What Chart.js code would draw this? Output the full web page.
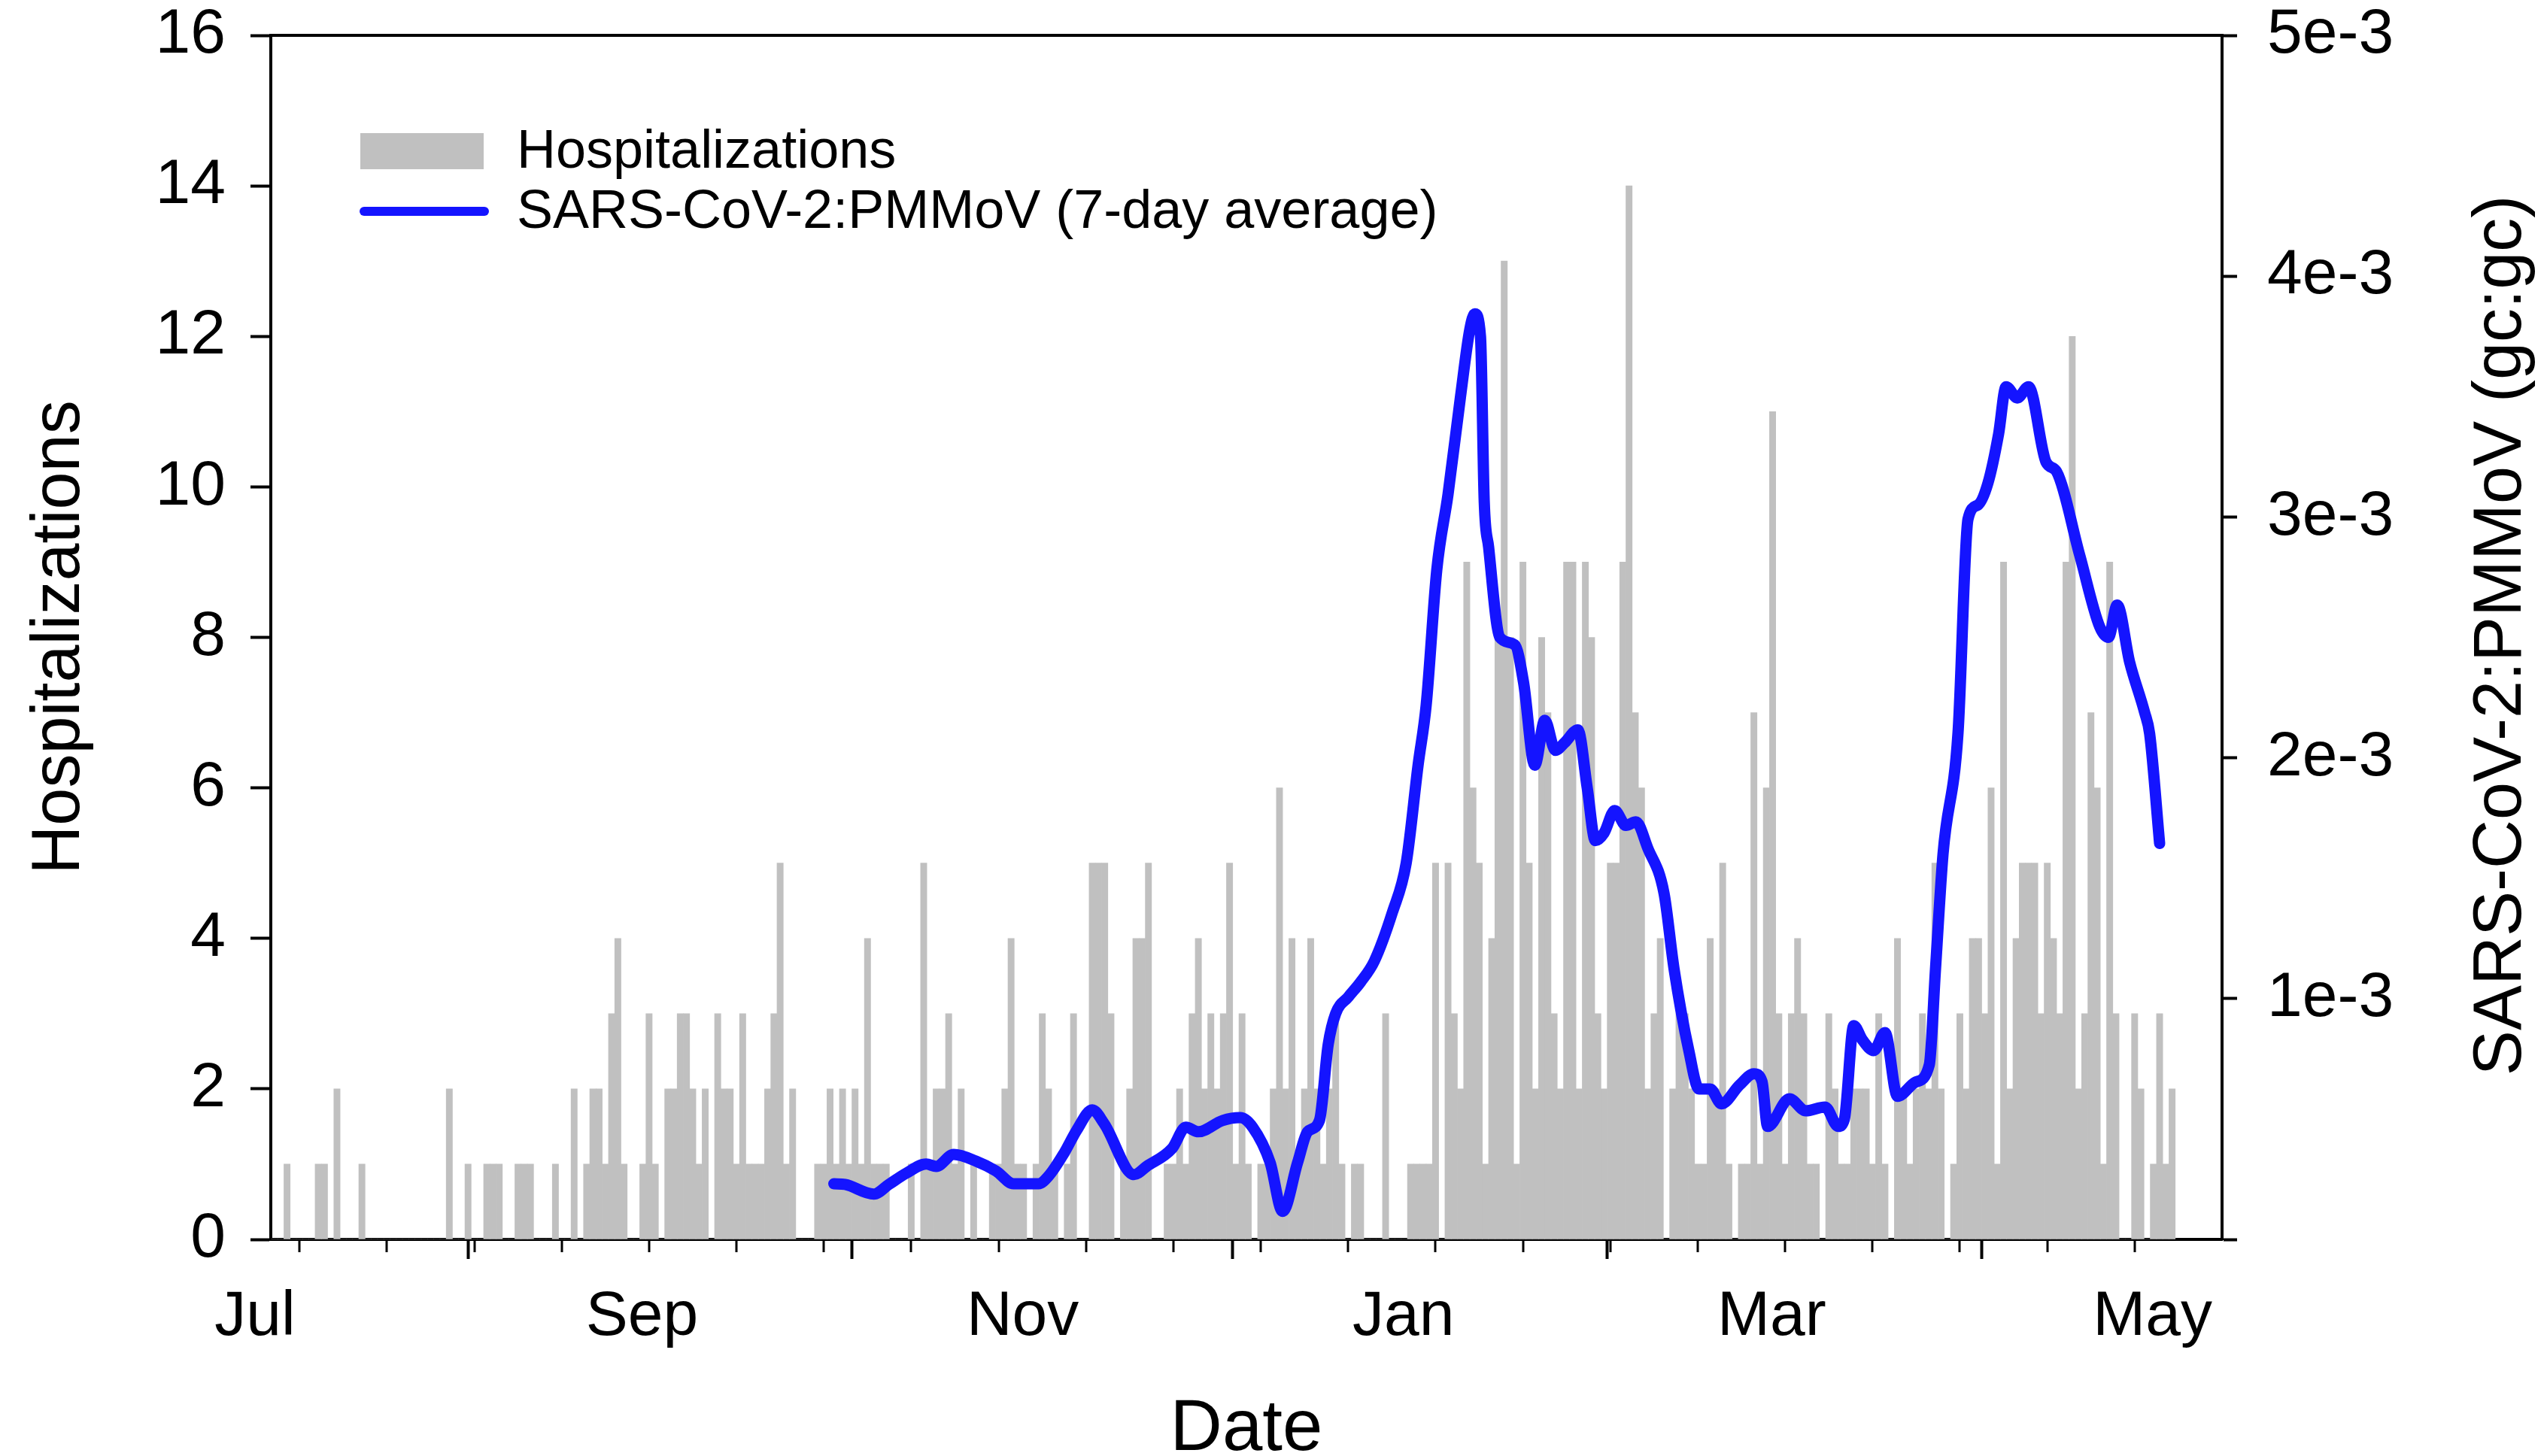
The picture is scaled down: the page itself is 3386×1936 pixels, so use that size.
<!DOCTYPE html>
<html>
<head>
<meta charset="utf-8">
<script src="https://cdn.jsdelivr.net/npm/chart.js@4.4.1/dist/chart.umd.min.js"></script>
<style>
  body { margin: 0; background: #fff; }
  #wrap { width: 3386px; height: 1936px; }
</style>
</head>
<body>
<div id="wrap"><canvas id="chart" width="3386" height="1936"></canvas></div>
<script>
// daily hospitalizations, index 0 = 1 Jul
const hospitalizations = [
  0, 0, 1, 0, 0, 0, 0, 1, 1, 0,
  2, 0, 0, 0, 1, 0, 0, 0, 0, 0,
  0, 0, 0, 0, 0, 0, 0, 0, 2, 0,
  0, 1, 0, 0, 1, 1, 1, 0, 0, 1,
  1, 1, 0, 0, 0, 1, 0, 0, 2, 0,
  1, 2, 2, 1, 3, 4, 1, 0, 0, 1,
  3, 1, 0, 2, 2, 3, 3, 2, 1, 2,
  0, 3, 2, 2, 1, 3, 1, 1, 1, 2,
  3, 5, 1, 2, 0, 0, 0, 1, 1, 2,
  1, 2, 1, 2, 1, 4, 1, 1, 1, 0,
  0, 0, 1, 0, 5, 1, 2, 2, 3, 1,
  2, 0, 1, 0, 0, 1, 1, 2, 4, 1,
  1, 0, 1, 3, 2, 1, 0, 1, 3, 0,
  0, 5, 5, 5, 3, 0, 1, 2, 4, 4,
  5, 0, 0, 1, 1, 2, 1, 3, 4, 2,
  3, 2, 3, 5, 1, 3, 1, 0, 1, 1,
  2, 6, 2, 4, 1, 2, 4, 2, 1, 2,
  3, 1, 0, 1, 1, 0, 0, 0, 3, 0,
  0, 0, 1, 1, 1, 1, 5, 0, 5, 3,
  2, 9, 6, 5, 1, 4, 8, 13, 8, 1,
  9, 5, 2, 8, 7, 3, 2, 9, 9, 2,
  9, 8, 3, 2, 5, 5, 9, 14, 7, 6,
  2, 3, 4, 0, 2, 3, 3, 2, 1, 1,
  4, 2, 5, 1, 0, 1, 1, 7, 1, 6,
  11, 3, 1, 3, 4, 3, 1, 1, 0, 3,
  2, 1, 1, 2, 2, 2, 1, 3, 1, 0,
  4, 2, 1, 2, 3, 2, 5, 2, 0, 1,
  3, 2, 4, 4, 3, 6, 1, 9, 2, 4,
  5, 5, 5, 3, 5, 4, 3, 9, 12, 2,
  3, 7, 6, 1, 9, 3, 0, 0, 3, 2,
  0, 1, 3, 1, 2
];

// SARS-CoV-2:PMMoV 7-day average, read at these days (in units of 1e-3)
const ratioDays = [
  89.6, 91.4, 96, 98.4, 101.2, 104.4, 106, 108.8, 112.4, 115.6,
  118.4, 122.4, 124, 126.5, 128.5, 131, 132.9, 137.7, 139.7, 143.8,
  146, 148, 151.9, 154.7, 156.7, 159.5, 161.5, 163.9, 165.5, 167.4,
  168.8, 170, 172, 174, 176.2, 179.1, 181.3, 183.2, 184.5, 186.2,
  188, 190, 191.5, 192.3, 193.2, 193.8, 194.5, 196.3, 198.7, 200.1,
  201.9, 203.5, 205.2, 206.7, 208.8, 210.3, 211.6, 213, 214.7, 216.5,
  218.1, 220, 222.6, 224.2, 226.6, 228.2, 230, 231.8, 234.7, 237,
  238.3, 239.2, 242.7, 245.3, 248.4, 250.5, 251.5, 253, 254.4, 256.2,
  258, 260, 262.9, 265.1, 266.1, 267.3, 269.7, 271.3, 272.9, 274.5,
  276.2, 277.4, 279.2, 281, 283.8, 285.5, 289.2, 292.4, 293.8, 295.2,
  297.2, 299.6, 300.4, 302
];
const ratioE3 = [
  0.231, 0.228, 0.188, 0.228, 0.275, 0.313, 0.303, 0.353, 0.325, 0.284,
  0.231, 0.231, 0.263, 0.359, 0.453, 0.538, 0.481, 0.269, 0.303, 0.378,
  0.466, 0.447, 0.494, 0.506, 0.466, 0.319, 0.116, 0.319, 0.447, 0.494,
  0.809, 0.938, 1.006, 1.069, 1.156, 1.359, 1.563, 1.969, 2.219, 2.781,
  3.094, 3.5, 3.781, 3.844, 3.75, 3.063, 2.875, 2.5, 2.469, 2.313,
  1.969, 2.156, 2.031, 2.063, 2.116, 1.875, 1.656, 1.688, 1.781, 1.719,
  1.734, 1.625, 1.438, 1.125, 0.781, 0.625, 0.625, 0.563, 0.641, 0.688,
  0.656, 0.469, 0.584, 0.534, 0.55, 0.469, 0.5, 0.888, 0.828, 0.784,
  0.859, 0.594, 0.653, 0.725, 1.125, 1.6, 2.103, 2.991, 3.05, 3.141,
  3.344, 3.541, 3.494, 3.541, 3.228, 3.188, 2.841, 2.544, 2.5, 2.634,
  2.397, 2.188, 2.1, 1.644
];

// x axis: month labels on first of month, minor ticks every 14 days
const tickDays = [0, 62, 123, 184, 243, 304];
const tickLabels = ["Jul", "Sep", "Nov", "Jan", "Mar", "May"];
const minorTickDays = [4, 18, 32, 46, 60, 74, 88, 102, 116, 130, 144, 158, 172, 186, 200, 214, 228, 242, 256, 270, 284, 298];

const FONT = '"Liberation Sans", Arial, Helvetica, sans-serif';
const barColor = "#c0c0c0";
const lineColor = "#1414ff";

const extras = {
    id: "extras",
    afterDraw(chart) {
        const { ctx, chartArea: a, scales } = chart;
        ctx.save();
        ctx.strokeStyle = "#000";
        ctx.lineWidth = 4;
        ctx.beginPath();
        ctx.moveTo(a.left - 2, a.top);
        ctx.lineTo(a.right + 2, a.top);
        ctx.stroke();

        ctx.lineWidth = 3;
        minorTickDays.forEach(function (d) {
            const px = Math.round(scales.x.getPixelForValue(d));
            ctx.beginPath();
            ctx.moveTo(px, a.bottom);
            ctx.lineTo(px, a.bottom + 17);
            ctx.stroke();
        });

        // axis titles
        ctx.fillStyle = "#000";
        ctx.textAlign = "center";
        ctx.textBaseline = "middle";
        ctx.font = "96px " + FONT;
        ctx.fillText("Date", (a.left + a.right) / 2, 1902);

        ctx.font = "90px " + FONT;
        ctx.save();
        ctx.translate(80, (a.top + a.bottom) / 2);
        ctx.rotate(-Math.PI / 2);
        ctx.fillText("Hospitalizations", 0, 0);
        ctx.restore();

        ctx.save();
        ctx.translate(3326, 845);
        ctx.rotate(-Math.PI / 2);
        ctx.fillText("SARS-CoV-2:PMMoV (gc:gc)", 0, 0);
        ctx.restore();

        // legend
        const ds = chart.data.datasets;
        ctx.font = "72px " + FONT;
        ctx.textAlign = "left";
        ctx.fillStyle = ds[0].backgroundColor;
        ctx.fillRect(479, 177, 164, 48);
        ctx.strokeStyle = ds[1].borderColor;
        ctx.lineWidth = 12;
        ctx.lineCap = "round";
        ctx.beginPath();
        ctx.moveTo(484, 281);
        ctx.lineTo(644, 281);
        ctx.stroke();
        ctx.fillStyle = "#000";
        ctx.fillText(ds[0].label, 687, 203);
        ctx.fillText(ds[1].label, 687, 283);
        ctx.restore();
    }
};

const tickFont = { family: FONT, size: 84, lineHeight: 1 };

function fixWidth(w) {
    return function (s) {
        s.width = w;
        s.paddingTop = 0;
        s.paddingBottom = 0;
    };
}

new Chart(document.getElementById("chart"), {
    type: "bar",
    data: {
        datasets: [{
            type: "bar",
            label: "Hospitalizations",
            data: hospitalizations.map((v, i) => ({ x: i, y: v })),
            backgroundColor: barColor,
            borderWidth: 0,
            barPercentage: 1,
            categoryPercentage: 1,
            yAxisID: "y",
            order: 2
        }, {
            type: "line",
            label: "SARS-CoV-2:PMMoV (7-day average)",
            data: ratioDays.map((d, i) => ({ x: d, y: ratioE3[i] * 1e-3 })),
            borderColor: lineColor,
            borderWidth: 15,
            pointRadius: 0,
            cubicInterpolationMode: "monotone",
            borderCapStyle: "round",
            borderJoinStyle: "round",
            yAxisID: "y1",
            order: 1
        }]
    },
    options: {
        responsive: false,
        animation: false,
        layout: { padding: { top: 47, left: 0, right: 0, bottom: 0 } },
        plugins: { legend: { display: false }, tooltip: { enabled: false } },
        scales: {
            x: {
                type: "linear",
                min: -0.6,
                max: 312,
                offset: false,
                grid: { drawOnChartArea: false, tickLength: 26, tickWidth: 4, tickColor: "#000" },
                border: { display: true, color: "#000", width: 4 },
                afterBuildTicks: function (s) { s.ticks = tickDays.map(v => ({ value: v })); },
                afterFit: function (s) { s.height = 288; s.paddingLeft = 0; s.paddingRight = 0; },
                ticks: {
                    autoSkip: false,
                    maxRotation: 0,
                    padding: 36,
                    labelOffset: -26,
                    color: "#000",
                    font: tickFont,
                    callback: function (v) { const k = tickDays.indexOf(v); return k >= 0 ? tickLabels[k] : ""; }
                }
            },
            y: {
                position: "left",
                min: 0,
                max: 16,
                grid: { drawOnChartArea: false, tickLength: 27, tickWidth: 4, tickColor: "#000" },
                border: { display: true, color: "#000", width: 4 },
                afterFit: fixWidth(360),
                ticks: {
                    stepSize: 2,
                    padding: 33,
                    color: "#000",
                    font: tickFont
                }
            },
            y1: {
                position: "right",
                min: 0,
                max: 0.005,
                grid: { drawOnChartArea: false, tickLength: 20, tickWidth: 4, tickColor: "#000" },
                border: { display: true, color: "#000", width: 4 },
                afterFit: fixWidth(432),
                ticks: {
                    stepSize: 0.001,
                    padding: 40,
                    color: "#000",
                    font: tickFont,
                    callback: function (v) { const n = Math.round(v * 1000); return n === 0 ? "" : n + "e-3"; }
                }
            }
        }
    },
    plugins: [extras]
});
</script>
</body>
</html>
